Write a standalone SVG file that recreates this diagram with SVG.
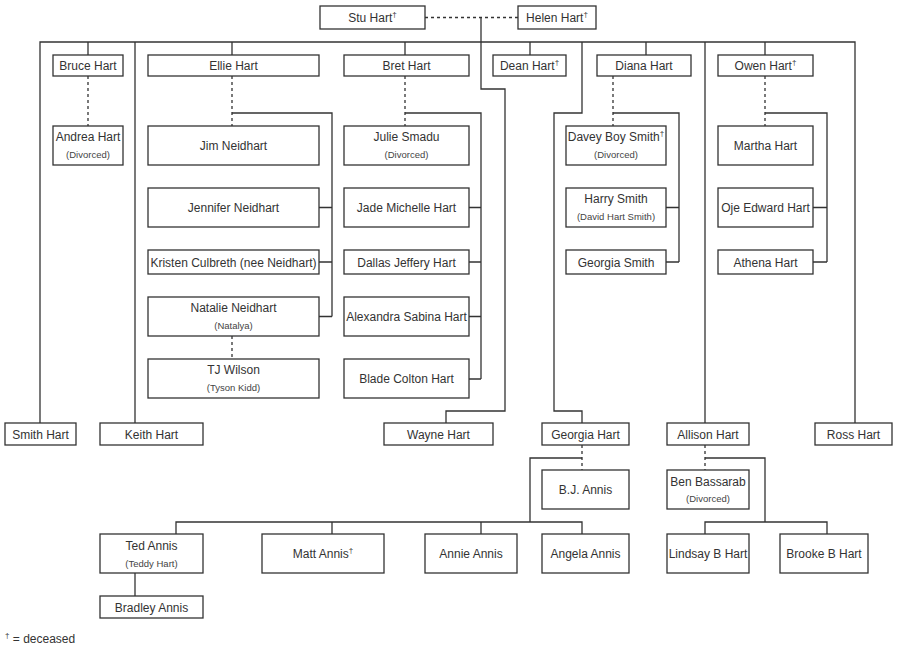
<svg xmlns="http://www.w3.org/2000/svg" width="900" height="649" viewBox="0 0 900 649">
<style>
.box{fill:#fff;stroke:#333;stroke-width:1.3}
.n{font-family:"Liberation Sans",Arial,sans-serif;font-size:12px;fill:#333;text-anchor:middle}
.s{font-family:"Liberation Sans",Arial,sans-serif;font-size:9.5px;fill:#444;text-anchor:middle}
.sup{font-size:8px}
.ln{fill:none;stroke:#333;stroke-width:1.3}
.d{stroke-dasharray:3,3}
</style>
<rect width="900" height="649" fill="#fff"/>
<g id="connectors">
<path class="ln d" d="M425 17.5H518"/>
<path class="ln" d="M481 17.5V89H505V411H446V423"/>
<path class="ln" d="M40 423V42H855V423"/>
<path class="ln" d="M88 42V55M135 42V423M232 42V55M405 42V55M530 42V55M646 42V55M705 42V423M765 42V55"/>
<path class="ln" d="M582 42V113H554V411H582V423"/>
<path class="ln d" d="M88 76V126M232 76V126M405 76V126M613 76V126M765 76V126M232 336V359M582 445V470M705 445V470"/>
<path class="ln" d="M232 113H332V316.5M319 207.5H332M319 262H332M319 316.5H332"/>
<path class="ln" d="M405 113H481V379M469 207.5H481M469 262H481M469 316.5H481M469 379H481"/>
<path class="ln" d="M613 113H679V262M666 207.5H679M666 262H679"/>
<path class="ln" d="M765 113H827V262M813 207.5H827M813 262H827"/>
<path class="ln" d="M582 458H530V522M176 534V522H582V534M332 522V534M481 522V534"/>
<path class="ln" d="M705 458H765V522M705 534V522H827V534"/>
<path class="ln" d="M135 573V596"/>
</g>
<g id="stu"><rect class="box" x="320" y="6" width="105" height="23"/><text class="n" x="372.5" y="22">Stu Hart<tspan class="sup" dy="-5">†</tspan></text></g>
<g id="helen"><rect class="box" x="518" y="6" width="78" height="23"/><text class="n" x="557" y="22">Helen Hart<tspan class="sup" dy="-5">†</tspan></text></g>

<g id="bruce"><rect class="box" x="53" y="55" width="70" height="21"/><text class="n" x="88" y="70">Bruce Hart</text></g>
<g id="ellie"><rect class="box" x="148" y="55" width="171" height="21"/><text class="n" x="233.5" y="70">Ellie Hart</text></g>
<g id="bret"><rect class="box" x="344" y="55" width="125" height="21"/><text class="n" x="406.5" y="70">Bret Hart</text></g>
<g id="dean"><rect class="box" x="493" y="55" width="73" height="21"/><text class="n" x="529.5" y="70">Dean Hart<tspan class="sup" dy="-5">†</tspan></text></g>
<g id="diana"><rect class="box" x="597" y="55" width="94" height="21"/><text class="n" x="644" y="70">Diana Hart</text></g>
<g id="owen"><rect class="box" x="718" y="55" width="95" height="21"/><text class="n" x="765.5" y="70">Owen Hart<tspan class="sup" dy="-5">†</tspan></text></g>

<g id="andrea"><rect class="box" x="53" y="126" width="70" height="39"/><text class="n" x="88" y="141">Andrea Hart</text><text class="s" x="88" y="158">(Divorced)</text></g>
<g id="jim"><rect class="box" x="148" y="126" width="171" height="39"/><text class="n" x="233.5" y="149.5">Jim Neidhart</text></g>
<g id="julie"><rect class="box" x="344" y="126" width="125" height="39"/><text class="n" x="406.5" y="141">Julie Smadu</text><text class="s" x="406.5" y="158">(Divorced)</text></g>
<g id="davey"><rect class="box" x="566" y="126" width="100" height="39"/><text class="n" x="616" y="141">Davey Boy Smith<tspan class="sup" dy="-5">†</tspan></text><text class="s" x="616" y="158">(Divorced)</text></g>
<g id="martha"><rect class="box" x="718" y="126" width="95" height="39"/><text class="n" x="765.5" y="149.5">Martha Hart</text></g>

<g id="jennifer"><rect class="box" x="148" y="188" width="171" height="39"/><text class="n" x="233.5" y="211.5">Jennifer Neidhart</text></g>
<g id="jade"><rect class="box" x="344" y="188" width="125" height="39"/><text class="n" x="406.5" y="211.5">Jade Michelle Hart</text></g>
<g id="harry"><rect class="box" x="566" y="188" width="100" height="39"/><text class="n" x="616" y="203">Harry Smith</text><text class="s" x="616" y="220">(David Hart Smith)</text></g>
<g id="oje"><rect class="box" x="718" y="188" width="95" height="39"/><text class="n" x="765.5" y="211.5">Oje Edward Hart</text></g>

<g id="kristen"><rect class="box" x="148" y="250" width="171" height="24"/><text class="n" x="233.5" y="266.5">Kristen Culbreth (nee Neidhart)</text></g>
<g id="dallas"><rect class="box" x="344" y="250" width="125" height="24"/><text class="n" x="406.5" y="266.5">Dallas Jeffery Hart</text></g>
<g id="georgiasmith"><rect class="box" x="566" y="250" width="100" height="24"/><text class="n" x="616" y="266.5">Georgia Smith</text></g>
<g id="athena"><rect class="box" x="718" y="250" width="95" height="24"/><text class="n" x="765.5" y="266.5">Athena Hart</text></g>

<g id="natalie"><rect class="box" x="148" y="297" width="171" height="39"/><text class="n" x="233.5" y="312">Natalie Neidhart</text><text class="s" x="233.5" y="329">(Natalya)</text></g>
<g id="alexandra"><rect class="box" x="344" y="297" width="125" height="39"/><text class="n" x="406.5" y="320.5">Alexandra Sabina Hart</text></g>

<g id="tj"><rect class="box" x="148" y="359" width="171" height="39"/><text class="n" x="233.5" y="374">TJ Wilson</text><text class="s" x="233.5" y="391">(Tyson Kidd)</text></g>
<g id="blade"><rect class="box" x="344" y="359" width="125" height="39"/><text class="n" x="406.5" y="382.5">Blade Colton Hart</text></g>

<g id="smith"><rect class="box" x="5" y="423" width="71" height="22"/><text class="n" x="40.5" y="438.5">Smith Hart</text></g>
<g id="keith"><rect class="box" x="100" y="423" width="103" height="22"/><text class="n" x="151.5" y="438.5">Keith Hart</text></g>
<g id="wayne"><rect class="box" x="384" y="423" width="109" height="22"/><text class="n" x="438.5" y="438.5">Wayne Hart</text></g>
<g id="georgiahart"><rect class="box" x="542" y="423" width="87" height="22"/><text class="n" x="585.5" y="438.5">Georgia Hart</text></g>
<g id="allison"><rect class="box" x="667" y="423" width="82" height="22"/><text class="n" x="708" y="438.5">Allison Hart</text></g>
<g id="ross"><rect class="box" x="815" y="423" width="77" height="22"/><text class="n" x="853.5" y="438.5">Ross Hart</text></g>

<g id="bj"><rect class="box" x="542" y="470" width="87" height="39"/><text class="n" x="585.5" y="494">B.J. Annis</text></g>
<g id="ben"><rect class="box" x="667" y="470" width="82" height="39"/><text class="n" x="708" y="486">Ben Bassarab</text><text class="s" x="708" y="502">(Divorced)</text></g>

<g id="ted"><rect class="box" x="100" y="534" width="103" height="39"/><text class="n" x="151.5" y="550">Ted Annis</text><text class="s" x="151.5" y="567">(Teddy Hart)</text></g>
<g id="matt"><rect class="box" x="262" y="534" width="122" height="39"/><text class="n" x="323" y="558">Matt Annis<tspan class="sup" dy="-5">†</tspan></text></g>
<g id="annie"><rect class="box" x="425" y="534" width="92" height="39"/><text class="n" x="471" y="558">Annie Annis</text></g>
<g id="angela"><rect class="box" x="542" y="534" width="87" height="39"/><text class="n" x="585.5" y="558">Angela Annis</text></g>
<g id="lindsay"><rect class="box" x="667" y="534" width="82" height="39"/><text class="n" x="708" y="558">Lindsay B Hart</text></g>
<g id="brooke"><rect class="box" x="780" y="534" width="88" height="39"/><text class="n" x="824" y="558">Brooke B Hart</text></g>

<g id="bradley"><rect class="box" x="100" y="596" width="103" height="22"/><text class="n" x="151.5" y="611.5">Bradley Annis</text></g>

<g id="legend"><text class="n" x="5" y="643" style="text-anchor:start"><tspan class="sup" dy="-5">†</tspan><tspan dy="5"> = deceased</tspan></text></g>
</svg>
